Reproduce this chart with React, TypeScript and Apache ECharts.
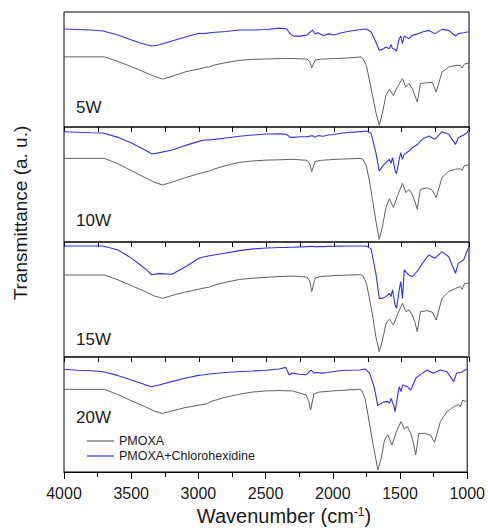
import React, { useEffect, useRef } from "react";
import * as echarts from "echarts";

const PANEL_LABELS = ["5W", "10W", "15W", "20W"];
const SERIES_NAMES = ["PMOXA", "PMOXA+Chlorohexidine"];

// Wavenumber sampling for PMOXA traces (cm-1)
const WN_PMOXA = [4000, 3700, 3600, 3500, 3400, 3330, 3270, 3200, 3100, 3000, 2950, 2930, 2900, 2800, 2700, 2600, 2500, 2400, 2300, 2200, 2180, 2165, 2140, 2100, 2000, 1900, 1800, 1785, 1760, 1740, 1715, 1690, 1665, 1640, 1615, 1590, 1560, 1530, 1493, 1468, 1445, 1420, 1400, 1383, 1360, 1310, 1272, 1243, 1200, 1150, 1100, 1065, 1052, 1032, 1015, 1000];

const PMOXA_5W = [61, 61, 57, 52.5, 47.5, 44, 41.7, 44, 48, 50.5, 52, 52, 53.5, 56, 58, 58.8, 59.2, 59.5, 59.5, 59, 57, 51.5, 58, 59, 59.5, 60, 60.9, 59.4, 53.6, 42, 27.5, 13, 1.5, 13, 27.5, 32.8, 27.5, 35, 42, 34.8, 37.7, 33.3, 27, 21.7, 37.7, 38.6, 38.6, 30.4, 47.8, 52.2, 53.6, 53.6, 51.3, 55, 55, 56];
const PMOXA_10W = [72.7, 72.7, 68, 62, 56, 52, 49.6, 52, 56, 59.5, 61, 61.5, 63, 66.5, 69.3, 70.5, 71.2, 71.5, 71.9, 71, 68, 61.2, 70, 71, 71.8, 72.3, 72.7, 71.9, 66, 54.5, 37, 18.3, 2.3, 14, 30, 37.7, 30, 40, 51, 43, 45.8, 41.4, 35, 28.4, 45.8, 47.2, 45, 38.6, 56, 61.7, 63.2, 63.8, 62.3, 66.7, 66.7, 67];
const PMOXA_15W = [71.3, 71.3, 67, 62, 57, 53, 51, 53.5, 56.5, 59, 60.3, 60.5, 62, 65, 67.5, 68.5, 69.3, 70, 70.4, 69.5, 66, 56.8, 68.7, 70, 70.8, 71.2, 71.6, 70.4, 64, 52.5, 36.5, 17.7, 4.6, 14.8, 29.3, 32.8, 27.8, 37, 46.7, 39.4, 40.9, 36.5, 30, 22, 39.4, 40.3, 39, 32.2, 51, 56.8, 59.7, 61.2, 58.8, 64, 64, 64.5];
const PMOXA_20W = [71.9, 71.9, 67.5, 62, 57, 53, 51, 53, 56, 58, 59, 59.7, 61.5, 65, 67.5, 69.5, 70.5, 70.8, 70.5, 67, 62, 53.9, 68, 69.5, 70.5, 71.2, 72, 71.3, 64, 51, 33.6, 17.7, 1.7, 11.9, 27.8, 32.2, 23.5, 34, 43.8, 37.4, 39.4, 33.6, 25, 14.8, 33.6, 33.6, 32, 25.8, 43.8, 52.5, 56.8, 58.8, 56.8, 62.6, 61.2, 63];

// Wavenumber sampling for PMOXA+Chlorohexidine traces (cm-1)
const WN_CHX = [4000, 3900, 3800, 3710, 3600, 3500, 3400, 3350, 3300, 3200, 3100, 3000, 2970, 2900, 2800, 2700, 2600, 2500, 2400, 2350, 2325, 2300, 2250, 2200, 2160, 2140, 2120, 2080, 2040, 2000, 1950, 1900, 1800, 1760, 1725, 1690, 1665, 1640, 1615, 1590, 1578, 1566, 1547, 1537, 1517, 1505, 1493, 1480, 1445, 1420, 1380, 1346, 1297, 1253, 1200, 1150, 1100, 1080, 1040, 1015, 1000];

const CHX_5W = [85.2, 84.8, 84.3, 83.5, 80, 75.7, 71.7, 70.4, 71.3, 74.8, 78.3, 81.5, 81.2, 82.2, 83, 84.3, 84.3, 84.8, 86, 85.2, 81, 79, 79, 80, 84.3, 80.9, 82, 79.6, 81, 80, 81.7, 83, 84.8, 85.2, 82.6, 73.9, 66.7, 67.5, 69.6, 68.1, 71.6, 68.1, 67.5, 65.8, 76.8, 79.1, 72.5, 79.1, 76.8, 79.7, 81, 82.6, 84, 81.2, 84.9, 84, 79.1, 81.2, 82, 82.6, 82.6];
const CHX_10W = [95.9, 95.5, 95, 94.8, 91, 86, 80, 76.5, 77.5, 80, 84, 87.5, 88.5, 89, 90.5, 92, 93, 93.9, 94, 93.5, 91, 91, 91.5, 91.5, 92.5, 91, 92.5, 92, 93, 93.5, 94.5, 95.2, 96, 96.5, 94.5, 77.7, 61.7, 66, 69, 71.9, 68.4, 73.3, 62, 59.4, 71.9, 77.7, 71.9, 76.2, 79.1, 82, 85, 89.3, 92.2, 89.3, 95.9, 93.6, 84.9, 90.7, 93, 95, 98];
const CHX_15W = [96.5, 96.5, 96.5, 96.5, 93, 86, 77, 71.5, 72.5, 72, 78.5, 85.8, 87, 88.5, 90.5, 92.5, 94, 94.8, 95.2, 95.3, 95.5, 95.5, 95.8, 96, 96.3, 95.8, 96, 96, 96.2, 96.3, 96.4, 96.5, 96.5, 96.5, 94, 72.8, 51, 51, 52.5, 55.4, 52.5, 58.3, 45, 42.3, 58.3, 65.5, 51, 75.7, 71.3, 69.9, 75, 81.4, 88.7, 85.8, 91.6, 87.2, 72.8, 81.4, 84.3, 92, 96];
const CHX_20W = [89.3, 88.5, 88, 87.2, 84, 80, 76, 74.2, 75.5, 78.6, 81.5, 84, 84.3, 85.5, 86.5, 87.2, 87.8, 88.5, 89.5, 91, 84.3, 86, 85, 84.5, 88.7, 86, 86.5, 86, 86.5, 87.2, 88, 88.5, 88.7, 89.6, 85.8, 72.8, 57.7, 59.7, 61, 61.2, 60, 64, 58, 52.5, 67, 74.2, 69.9, 75.7, 74.2, 71.3, 82, 84.9, 88.7, 85.8, 88.7, 87.2, 78.6, 85.8, 87, 88.7, 89.5];

const PMOXA_PANELS = [PMOXA_5W, PMOXA_10W, PMOXA_15W, PMOXA_20W];
const CHX_PANELS = [CHX_5W, CHX_10W, CHX_15W, CHX_20W];

const FONT = "'Liberation Sans', Arial, Helvetica, sans-serif";
const TEXT_COLOR = "#1a1a1a";
const GRAY = "#606060";
const BLUE = "#3434de";

const PLOT_LEFT = 64;
const PLOT_RIGHT = 19;
const PLOT_TOP = 12;
const PANEL_H = 115;
const LABEL_Y = [107, 220, 339, 417];

const zip = (xs: number[], ys: number[]) => xs.map((x, i) => [x, ys[i]]);

export default function App() {
  const ref = useRef<HTMLDivElement>(null);
  useEffect(() => {
    if (!ref.current) return;
    const chart = echarts.init(ref.current, undefined, { renderer: "svg" });
    const grids: any[] = [];
    const xAxes: any[] = [];
    const yAxes: any[] = [];
    const series: any[] = [];
    for (let i = 0; i < 4; i++) {
      grids.push({
        left: PLOT_LEFT,
        right: PLOT_RIGHT,
        top: PLOT_TOP + PANEL_H * i,
        height: PANEL_H,
        show: true,
        borderColor: "#000",
        borderWidth: 1,
        backgroundColor: "transparent",
      });
      xAxes.push({
        gridIndex: i,
        type: "value",
        min: 1000,
        max: 4000,
        inverse: true,
        position: "top",
        interval: 250,
        axisLine: { show: false },
        axisTick: { show: true, inside: true, length: 5, lineStyle: { color: "#000", width: 1 } },
        axisLabel: { show: false },
        splitLine: { show: false },
      });
      yAxes.push({ gridIndex: i, type: "value", min: 0, max: 100, show: false });
      series.push({
        name: SERIES_NAMES[0],
        type: "line",
        xAxisIndex: i,
        yAxisIndex: i,
        data: zip(WN_PMOXA, PMOXA_PANELS[i]),
        showSymbol: false,
        symbol: "none",
        lineStyle: { color: GRAY, width: 1 },
        itemStyle: { color: GRAY },
      });
      series.push({
        name: SERIES_NAMES[1],
        type: "line",
        xAxisIndex: i,
        yAxisIndex: i,
        data: zip(WN_CHX, CHX_PANELS[i]),
        showSymbol: false,
        symbol: "none",
        lineStyle: { color: BLUE, width: 1.1 },
        itemStyle: { color: BLUE },
      });
    }
    xAxes.push({
      gridIndex: 3,
      type: "value",
      min: 1000,
      max: 4000,
      inverse: true,
      position: "bottom",
      interval: 500,
      axisLine: { show: true, lineStyle: { color: "#000", width: 1 } },
      axisTick: { show: true, inside: false, length: 7, lineStyle: { color: "#000" } },
      minorTick: { show: true, splitNumber: 2, length: 4, lineStyle: { color: "#000" } },
      axisLabel: {
        show: true,
        margin: 13,
        fontSize: 16,
        color: TEXT_COLOR,
        fontFamily: FONT,
        showMinLabel: true,
        showMaxLabel: true,
        formatter: (v: number) => String(v),
      },
      splitLine: { show: false },
    });

    const graphics: any[] = PANEL_LABELS.map((t, i) => ({
      type: "text",
      left: 76,
      top: LABEL_Y[i] - 8,
      style: { text: t, fontSize: 17, fontFamily: FONT, fill: TEXT_COLOR },
    }));
    graphics.push({
      type: "text",
      x: 20,
      y: 213,
      rotation: Math.PI / 2,
      style: {
        text: "Transmittance (a. u.)",
        fontSize: 19,
        fontFamily: FONT,
        fill: TEXT_COLOR,
        align: "center",
        verticalAlign: "middle",
      },
    });
    graphics.push({
      type: "text",
      x: 284,
      y: 516,
      style: {
        text: "{a|Wavenumber (cm}{s|-1}{a|)}",
        fontFamily: FONT,
        fill: TEXT_COLOR,
        align: "center",
        verticalAlign: "middle",
        rich: {
          a: { fontSize: 20, fontFamily: FONT, fill: TEXT_COLOR, lineHeight: 20, verticalAlign: "bottom" },
          s: { fontSize: 12, fontFamily: FONT, fill: TEXT_COLOR, lineHeight: 20, verticalAlign: "top", padding: [0, 0, 6, 0] },
        },
      },
    });

    chart.setOption({
      animation: false,
      backgroundColor: "#fff",
      grid: grids,
      xAxis: xAxes,
      yAxis: yAxes,
      series,
      legend: {
        data: SERIES_NAMES,
        orient: "vertical",
        left: 87,
        top: 434,
        padding: 0,
        icon: "rect",
        itemWidth: 27,
        itemHeight: 1.2,
        itemGap: 1,
        textStyle: { fontSize: 12.5, fontFamily: FONT, color: TEXT_COLOR, lineHeight: 14 },
        selectedMode: false,
      },
      graphic: graphics,
    });
    return () => chart.dispose();
  }, []);
  return (
    <div
      ref={ref}
      style={{ position: "fixed", left: 0, top: 0, width: 488, height: 528, background: "#fff" }}
    />
  );
}
